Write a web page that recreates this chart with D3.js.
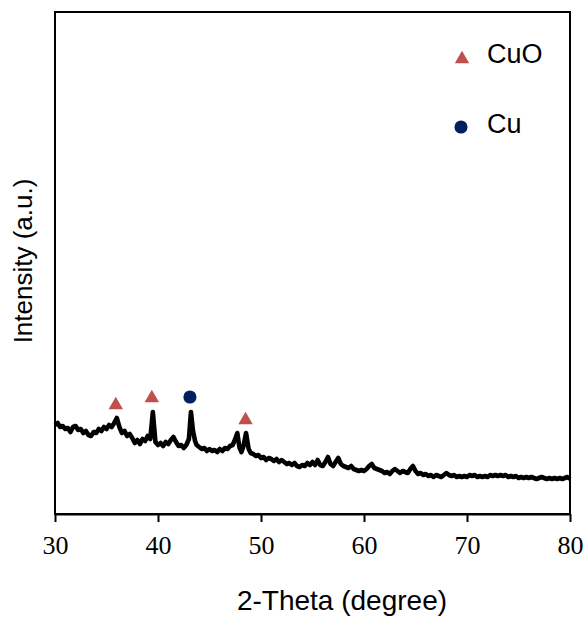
<!DOCTYPE html>
<meta charset="utf-8">
<body style="margin:0;background:#fff">
<script src="https://cdn.jsdelivr.net/npm/d3@7"></script>
<script>

    // 2-theta positions (degree) and intensity (a.u.)
    var twoTheta = [
        30, 30.25, 30.5, 30.75, 31, 31.25, 31.5, 31.75, 32, 32.25, 32.5, 32.75,
        33, 33.25, 33.5, 33.75, 34, 34.25, 34.5, 34.75, 35, 35.25, 35.5, 35.75,
        36, 36.25, 36.5, 36.75, 37, 37.25, 37.5, 37.75, 38, 38.25, 38.5, 38.75,
        39, 39.25, 39.5, 39.75, 40, 40.25, 40.5, 40.75, 41, 41.25, 41.5, 41.75,
        42, 42.25, 42.5, 42.75, 43, 43.2, 43.4, 43.6, 43.75, 44, 44.25, 44.5, 44.75,
        45, 45.25, 45.5, 45.75, 46, 46.25, 46.5, 46.75, 47, 47.25, 47.5, 47.7,
        47.9, 48.1, 48.3, 48.55, 48.8, 49, 49.25, 49.5, 49.75,
        50, 50.25, 50.5, 50.75, 51, 51.25, 51.5, 51.75, 52, 52.25, 52.5, 52.75,
        53, 53.25, 53.5, 53.75, 54, 54.25, 54.5, 54.75, 55, 55.25, 55.5, 55.75,
        56, 56.25, 56.5, 56.75, 57, 57.25, 57.5, 57.75, 58, 58.25, 58.5, 58.75,
        59, 59.25, 59.5, 59.75, 60, 60.25, 60.5, 60.75, 61, 61.25, 61.5, 61.75,
        62, 62.25, 62.5, 62.75, 63, 63.25, 63.5, 63.75, 64, 64.25, 64.5, 64.75,
        65, 65.25, 65.5, 65.75, 66, 66.25, 66.5, 66.75, 67, 67.25, 67.5, 67.75,
        68, 68.25, 68.5, 68.75, 69, 69.25, 69.5, 69.75, 70, 70.25, 70.5, 70.75,
        71, 71.25, 71.5, 71.75, 72, 72.25, 72.5, 72.75, 73, 73.25, 73.5, 73.75,
        74, 74.25, 74.5, 74.75, 75, 75.25, 75.5, 75.75, 76, 76.25, 76.5, 76.75,
        77, 77.25, 77.5, 77.75, 78, 78.25, 78.5, 78.75, 79, 79.25, 79.5, 79.75, 80
    ];
    var intensity = [
        89, 91, 87, 88, 85, 86, 82, 87, 88, 84, 85, 81,
        83, 79, 78, 82, 81, 85, 83, 87, 85, 89, 87, 91,
        96, 87, 81, 83, 78, 80, 76, 71, 74, 70, 75, 73,
        78, 75, 102, 72, 69, 71, 68, 72, 70, 74, 77, 72,
        68, 69, 66, 69, 75, 102, 83, 73, 69, 67, 65, 66, 63,
        65, 63, 64, 62, 65, 63, 66, 65, 68, 69, 75, 81,
        67, 62, 68, 81, 65, 61, 60, 58, 59,
        56, 57, 54, 56, 55, 53, 55, 52, 54, 52, 50, 51,
        49, 51, 48, 47, 49, 48, 51, 49, 52, 49, 54, 49,
        48, 52, 57, 50, 48, 52, 56, 50, 48, 47, 46, 48,
        45, 44, 43, 44, 43, 45, 48, 50, 46, 45, 44, 43,
        41, 42, 40, 43, 45, 43, 41, 43, 42, 41, 45, 48,
        43, 40, 41, 39, 40, 38, 39, 37, 39, 38, 37, 39,
        41, 39, 38, 39, 37, 38, 37, 38, 37, 39, 38, 39,
        37, 38, 37, 38, 37, 39, 38, 39, 38, 39, 38, 39,
        37, 38, 37, 38, 36, 37, 36, 37, 36, 37, 36, 35,
        36, 37, 36, 35, 36, 35, 36, 35, 36, 35, 36, 37, 35
    ];

    // phase markers above the peaks
    var cuoTheta = [35.9, 39.4, 48.5];
    var cuoLevel = [109, 116, 94];
    var cuTheta = [43.1];
    var cuLevel = [117];

    var legendLabels = ["CuO", "Cu"];
    var xTicks = [30, 40, 50, 60, 70, 80];

    var width = 587,
        height = 617;
    var plotLeft = 55, plotRight = 570, plotTop = 12, plotBottom = 514;

    var svg = d3.select("body").append("svg")
            .attr("width", width)
            .attr("height", height)
            .style("display", "block");

    var x = d3.scaleLinear().domain([30, 80]).range([plotLeft, plotRight]);
    var y = d3.scaleLinear().domain([0, plotBottom - plotTop]).range([plotBottom, plotTop]);

    var points = twoTheta.map(function(t, i) { return [t, intensity[i]]; });

    var line = d3.line()
            .x(function(d) { return x(d[0]); })
            .y(function(d) { return y(d[1]); });

    svg.append("path")
            .datum(points)
            .attr("d", line)
            .attr("fill", "none")
            .attr("stroke", "#000")
            .attr("stroke-width", 4.6)
            .attr("stroke-linejoin", "round");

    // frame
    svg.append("rect")
            .attr("x", plotLeft)
            .attr("y", plotTop)
            .attr("width", plotRight - plotLeft)
            .attr("height", plotBottom - plotTop)
            .attr("fill", "none")
            .attr("stroke", "#000")
            .attr("stroke-width", 2);

    var xAxis = svg.append("g")
            .attr("transform", "translate(0," + plotBottom + ")")
            .call(d3.axisBottom(x).tickValues(xTicks).tickSize(8).tickSizeOuter(0).tickPadding(14));
    xAxis.select(".domain").attr("stroke-width", 2);
    xAxis.selectAll(".tick line").attr("stroke-width", 2);
    xAxis.selectAll(".tick text")
            .attr("font-family", "'Liberation Serif', 'Times New Roman', serif")
            .attr("font-size", 26)
            .attr("fill", "#000");

    var tri = d3.symbol().type(d3.symbolTriangle).size(90);
    var dot = d3.symbol().type(d3.symbolCircle).size(135);

    svg.selectAll(".cuo")
            .data(cuoTheta)
            .enter().append("path")
            .attr("class", "cuo")
            .attr("d", tri)
            .attr("fill", "#C0504D")
            .attr("transform", function(d, i) { return "translate(" + x(d) + "," + y(cuoLevel[i]) + ")"; });

    svg.selectAll(".cu")
            .data(cuTheta)
            .enter().append("path")
            .attr("class", "cu")
            .attr("d", dot)
            .attr("fill", "#002060")
            .attr("transform", function(d, i) { return "translate(" + x(d) + "," + y(cuLevel[i]) + ")"; });

    // legend
    var legend = svg.append("g").attr("font-family", "'Liberation Sans', Arial, sans-serif").attr("font-size", 27);
    legend.append("path").attr("d", tri).attr("fill", "#C0504D").attr("transform", "translate(462,59)");
    legend.append("path").attr("d", dot).attr("fill", "#002060").attr("transform", "translate(461,127)");
    legend.append("text").attr("x", 487).attr("y", 63).text(legendLabels[0]);
    legend.append("text").attr("x", 487).attr("y", 133).text(legendLabels[1]);

    // axis titles
    svg.append("text")
            .attr("x", 342)
            .attr("y", 610)
            .attr("text-anchor", "middle")
            .attr("font-family", "'Liberation Sans', Arial, sans-serif")
            .attr("font-size", 28)
            .text("2-Theta (degree)");

    svg.append("text")
            .attr("transform", "translate(32,261) rotate(-90)")
            .attr("text-anchor", "middle")
            .attr("font-family", "'Liberation Sans', Arial, sans-serif")
            .attr("font-size", 26)
            .text("Intensity (a.u.)");

</script>
